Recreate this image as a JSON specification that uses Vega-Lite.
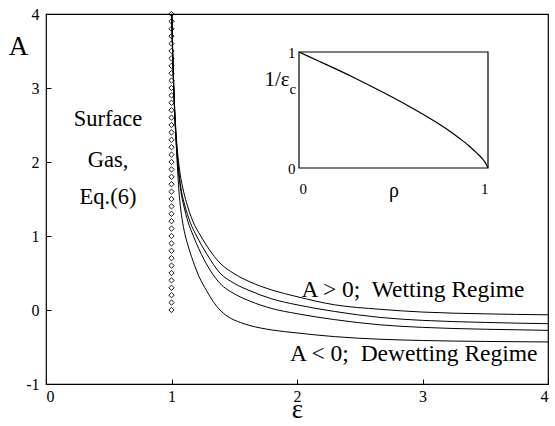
{
  "$schema": "https://vega.github.io/schema/vega-lite/v6.json",
  "width": 502,
  "height": 370,
  "autosize": "none",
  "padding": {"left": 46, "top": 14, "right": 7, "bottom": 42},
  "background": "white",
  "config": {
    "view": {"stroke": "black", "strokeWidth": 1.2},
    "font": "Liberation Serif",
    "axis": {"labelFont": "Liberation Serif", "titleFont": "Liberation Serif", "labelColor": "black", "titleColor": "black", "grid": false, "domain": false, "tickColor": "black", "titleFontWeight": "normal"},
    "text": {"font": "Liberation Serif", "color": "black"}
  },
  "datasets": {
    "curves": [
      {"curve": "a", "eps": 1.002, "A": 4.0}, {"curve": "a", "eps": 1.008, "A": 3.6}, {"curve": "a", "eps": 1.015, "A": 3.2}, {"curve": "a", "eps": 1.025, "A": 2.75}, {"curve": "a", "eps": 1.04, "A": 2.3}, {"curve": "a", "eps": 1.06, "A": 1.95}, {"curve": "a", "eps": 1.09, "A": 1.65}, {"curve": "a", "eps": 1.12, "A": 1.45}, {"curve": "a", "eps": 1.17, "A": 1.2}, {"curve": "a", "eps": 1.233, "A": 1.0}, {"curve": "a", "eps": 1.3, "A": 0.82}, {"curve": "a", "eps": 1.386, "A": 0.635}, {"curve": "a", "eps": 1.5, "A": 0.49}, {"curve": "a", "eps": 1.625, "A": 0.38}, {"curve": "a", "eps": 1.8, "A": 0.27}, {"curve": "a", "eps": 2.0, "A": 0.18}, {"curve": "a", "eps": 2.3, "A": 0.07}, {"curve": "a", "eps": 2.66, "A": 0.01}, {"curve": "a", "eps": 3.0, "A": -0.028}, {"curve": "a", "eps": 3.5, "A": -0.052}, {"curve": "a", "eps": 4.0, "A": -0.065},
      {"curve": "b", "eps": 1.002, "A": 4.0}, {"curve": "b", "eps": 1.008, "A": 3.55}, {"curve": "b", "eps": 1.015, "A": 3.15}, {"curve": "b", "eps": 1.025, "A": 2.7}, {"curve": "b", "eps": 1.04, "A": 2.25}, {"curve": "b", "eps": 1.06, "A": 1.85}, {"curve": "b", "eps": 1.08, "A": 1.6}, {"curve": "b", "eps": 1.105, "A": 1.42}, {"curve": "b", "eps": 1.15, "A": 1.18}, {"curve": "b", "eps": 1.2, "A": 1.0}, {"curve": "b", "eps": 1.28, "A": 0.76}, {"curve": "b", "eps": 1.386, "A": 0.5}, {"curve": "b", "eps": 1.5, "A": 0.36}, {"curve": "b", "eps": 1.625, "A": 0.26}, {"curve": "b", "eps": 1.8, "A": 0.15}, {"curve": "b", "eps": 2.0, "A": 0.07}, {"curve": "b", "eps": 2.3, "A": -0.02}, {"curve": "b", "eps": 2.66, "A": -0.1}, {"curve": "b", "eps": 3.0, "A": -0.14}, {"curve": "b", "eps": 3.5, "A": -0.168}, {"curve": "b", "eps": 4.0, "A": -0.185},
      {"curve": "c", "eps": 1.002, "A": 4.0}, {"curve": "c", "eps": 1.008, "A": 3.5}, {"curve": "c", "eps": 1.015, "A": 3.1}, {"curve": "c", "eps": 1.025, "A": 2.65}, {"curve": "c", "eps": 1.04, "A": 2.2}, {"curve": "c", "eps": 1.06, "A": 1.8}, {"curve": "c", "eps": 1.08, "A": 1.55}, {"curve": "c", "eps": 1.095, "A": 1.43}, {"curve": "c", "eps": 1.13, "A": 1.2}, {"curve": "c", "eps": 1.174, "A": 1.0}, {"curve": "c", "eps": 1.26, "A": 0.68}, {"curve": "c", "eps": 1.386, "A": 0.36}, {"curve": "c", "eps": 1.5, "A": 0.22}, {"curve": "c", "eps": 1.625, "A": 0.12}, {"curve": "c", "eps": 1.8, "A": 0.02}, {"curve": "c", "eps": 2.0, "A": -0.05}, {"curve": "c", "eps": 2.3, "A": -0.13}, {"curve": "c", "eps": 2.66, "A": -0.2}, {"curve": "c", "eps": 3.0, "A": -0.235}, {"curve": "c", "eps": 3.5, "A": -0.26}, {"curve": "c", "eps": 4.0, "A": -0.275},
      {"curve": "d", "eps": 1.002, "A": 4.0}, {"curve": "d", "eps": 1.01, "A": 3.45}, {"curve": "d", "eps": 1.02, "A": 2.9}, {"curve": "d", "eps": 1.03, "A": 2.5}, {"curve": "d", "eps": 1.045, "A": 2.0}, {"curve": "d", "eps": 1.062, "A": 1.55}, {"curve": "d", "eps": 1.08, "A": 1.28}, {"curve": "d", "eps": 1.1, "A": 1.08}, {"curve": "d", "eps": 1.13, "A": 0.88}, {"curve": "d", "eps": 1.17, "A": 0.67}, {"curve": "d", "eps": 1.22, "A": 0.45}, {"curve": "d", "eps": 1.28, "A": 0.26}, {"curve": "d", "eps": 1.33, "A": 0.12}, {"curve": "d", "eps": 1.386, "A": 0.0}, {"curve": "d", "eps": 1.45, "A": -0.09}, {"curve": "d", "eps": 1.55, "A": -0.17}, {"curve": "d", "eps": 1.625, "A": -0.21}, {"curve": "d", "eps": 1.8, "A": -0.27}, {"curve": "d", "eps": 2.0, "A": -0.31}, {"curve": "d", "eps": 2.3, "A": -0.36}, {"curve": "d", "eps": 2.66, "A": -0.395}, {"curve": "d", "eps": 3.0, "A": -0.412}, {"curve": "d", "eps": 3.5, "A": -0.425}, {"curve": "d", "eps": 4.0, "A": -0.432}
    ],
    "gas": [
      {"eps": 1, "A": 0.0}, {"eps": 1, "A": 0.1}, {"eps": 1, "A": 0.2}, {"eps": 1, "A": 0.3}, {"eps": 1, "A": 0.4}, {"eps": 1, "A": 0.5}, {"eps": 1, "A": 0.6}, {"eps": 1, "A": 0.7}, {"eps": 1, "A": 0.8}, {"eps": 1, "A": 0.9},
      {"eps": 1, "A": 1.0}, {"eps": 1, "A": 1.1}, {"eps": 1, "A": 1.2}, {"eps": 1, "A": 1.3}, {"eps": 1, "A": 1.4}, {"eps": 1, "A": 1.5}, {"eps": 1, "A": 1.6}, {"eps": 1, "A": 1.7}, {"eps": 1, "A": 1.8}, {"eps": 1, "A": 1.9},
      {"eps": 1, "A": 2.0}, {"eps": 1, "A": 2.1}, {"eps": 1, "A": 2.2}, {"eps": 1, "A": 2.3}, {"eps": 1, "A": 2.4}, {"eps": 1, "A": 2.5}, {"eps": 1, "A": 2.6}, {"eps": 1, "A": 2.7}, {"eps": 1, "A": 2.8}, {"eps": 1, "A": 2.9},
      {"eps": 1, "A": 3.0}, {"eps": 1, "A": 3.1}, {"eps": 1, "A": 3.2}, {"eps": 1, "A": 3.3}, {"eps": 1, "A": 3.4}, {"eps": 1, "A": 3.5}, {"eps": 1, "A": 3.6}, {"eps": 1, "A": 3.7}, {"eps": 1, "A": 3.8}, {"eps": 1, "A": 3.9}, {"eps": 1, "A": 4.0}
    ],
    "inset": [
      {"rho": 0.0, "inv": 1.0}, {"rho": 0.1, "inv": 0.925}, {"rho": 0.2, "inv": 0.85}, {"rho": 0.3, "inv": 0.772}, {"rho": 0.4, "inv": 0.69}, {"rho": 0.5, "inv": 0.605}, {"rho": 0.6, "inv": 0.515}, {"rho": 0.7, "inv": 0.42}, {"rho": 0.8, "inv": 0.315}, {"rho": 0.85, "inv": 0.255}, {"rho": 0.9, "inv": 0.19}, {"rho": 0.94, "inv": 0.13}, {"rho": 0.97, "inv": 0.08}, {"rho": 0.99, "inv": 0.035}, {"rho": 1.0, "inv": 0.0}
    ]
  },
  "layer": [
    {
      "layer": [
        {
          "mark": {"type": "rule", "color": "#555555", "strokeWidth": 0.8, "strokeDash": [1, 2]},
          "encoding": {"y": {"datum": 0, "type": "quantitative"}}
        },
        {
          "data": {"name": "curves"},
          "mark": {"type": "line", "color": "black", "strokeWidth": 1, "interpolate": "monotone", "clip": true},
          "encoding": {
            "x": {"field": "eps", "type": "quantitative", "scale": {"domain": [0, 4], "nice": false, "zero": false},
                  "axis": {"values": [0, 1, 2, 3, 4], "format": "d", "tickSize": -5, "ticks": true, "tickWidth": 1, "labelPadding": 9, "labelFont": "Liberation Serif", "labelFontSize": 16, "title": "ε", "titleFont": "Liberation Serif", "titleFontSize": 27, "titleBaseline": "alphabetic", "titleY": 33}},
            "y": {"field": "A", "type": "quantitative", "scale": {"domain": [-1, 4], "nice": false, "zero": false},
                  "axis": {"values": [-1, 0, 1, 2, 3, 4], "tickSize": -5, "ticks": true, "tickWidth": 1, "labelPadding": 12, "labelFont": "Liberation Serif", "labelFontSize": 16, "labelExpr": "'' + datum.value", "title": "A", "titleFont": "Liberation Serif", "titleFontSize": 27, "titleAngle": 0, "titleAlign": "center", "titleBaseline": "middle", "titleX": -28, "titleY": 32}},
            "detail": {"field": "curve"}
          }
        },
        {
          "data": {"name": "gas"},
          "mark": {"type": "point", "shape": "diamond", "filled": false, "color": "black", "strokeWidth": 0.9, "size": 28, "opacity": 1},
          "encoding": {
            "x": {"field": "eps", "type": "quantitative"},
            "y": {"field": "A", "type": "quantitative"}
          }
        },
        {
          "data": {"values": [{}]},
          "mark": {"type": "text", "text": "Surface", "font": "Liberation Serif", "fontSize": 22.5, "align": "center", "baseline": "middle"},
          "encoding": {"x": {"datum": 0.494, "type": "quantitative"}, "y": {"datum": 2.585, "type": "quantitative"}}
        },
        {
          "data": {"values": [{}]},
          "mark": {"type": "text", "text": "Gas,", "font": "Liberation Serif", "fontSize": 22.5, "align": "center", "baseline": "middle"},
          "encoding": {"x": {"datum": 0.494, "type": "quantitative"}, "y": {"datum": 2.03, "type": "quantitative"}}
        },
        {
          "data": {"values": [{}]},
          "mark": {"type": "text", "text": "Eq.(6)", "font": "Liberation Serif", "fontSize": 22.5, "align": "center", "baseline": "middle"},
          "encoding": {"x": {"datum": 0.494, "type": "quantitative"}, "y": {"datum": 1.53, "type": "quantitative"}}
        },
        {
          "data": {"values": [{}]},
          "mark": {"type": "text", "text": "A > 0;\u00a0 Wetting Regime", "font": "Liberation Serif", "fontSize": 23.5, "align": "center", "baseline": "middle"},
          "encoding": {"x": {"datum": 2.924, "type": "quantitative"}, "y": {"datum": 0.275, "type": "quantitative"}}
        },
        {
          "data": {"values": [{}]},
          "mark": {"type": "text", "text": "A < 0;\u00a0 Dewetting Regime", "font": "Liberation Serif", "fontSize": 23.5, "align": "center", "baseline": "middle"},
          "encoding": {"x": {"datum": 2.93, "type": "quantitative"}, "y": {"datum": -0.6, "type": "quantitative"}}
        }
      ]
    },
    {
      "layer": [
        {
          "data": {"values": [{}]},
          "mark": {"type": "rect", "fill": "white", "stroke": "black", "strokeWidth": 1.2},
          "encoding": {
            "x": {"datum": 0, "type": "quantitative", "scale": {"domain": [0, 1], "range": [253, 442], "nice": false, "zero": false},
                  "axis": {"orient": "bottom", "offset": -216, "values": [0, 1], "format": "d", "ticks": false, "tickSize": 0, "labelPadding": 13, "labelFont": "Liberation Serif", "labelFontSize": 15, "title": "ρ", "titleFont": "Liberation Serif", "titleFontSize": 20, "titleBaseline": "alphabetic", "titleY": 28}},
            "x2": {"datum": 1},
            "y": {"datum": 0, "type": "quantitative", "scale": {"domain": [0, 1], "range": [154, 38], "nice": false, "zero": false},
                  "axis": {"orient": "left", "offset": -253, "values": [0, 1], "format": "d", "ticks": false, "tickSize": 0, "labelPadding": 4, "labelFont": "Liberation Serif", "labelFontSize": 15, "title": null}},
            "y2": {"datum": 1}
          }
        },
        {
          "data": {"name": "inset"},
          "mark": {"type": "line", "color": "black", "strokeWidth": 1.2, "interpolate": "monotone"},
          "encoding": {
            "x": {"field": "rho", "type": "quantitative"},
            "y": {"field": "inv", "type": "quantitative"}
          }
        },
        {
          "data": {"values": [{}]},
          "mark": {"type": "text", "text": "1/ε", "font": "Liberation Serif", "fontSize": 21, "align": "right", "baseline": "middle"},
          "encoding": {"x": {"datum": -0.05, "type": "quantitative"}, "y": {"datum": 0.76, "type": "quantitative"}}
        },
        {
          "data": {"values": [{}]},
          "mark": {"type": "text", "text": "c", "font": "Liberation Serif", "fontSize": 15, "align": "left", "baseline": "middle"},
          "encoding": {"x": {"datum": -0.05, "type": "quantitative"}, "y": {"datum": 0.68, "type": "quantitative"}}
        }
      ]
    }
  ],
  "resolve": {"scale": {"x": "independent", "y": "independent"}}
}
